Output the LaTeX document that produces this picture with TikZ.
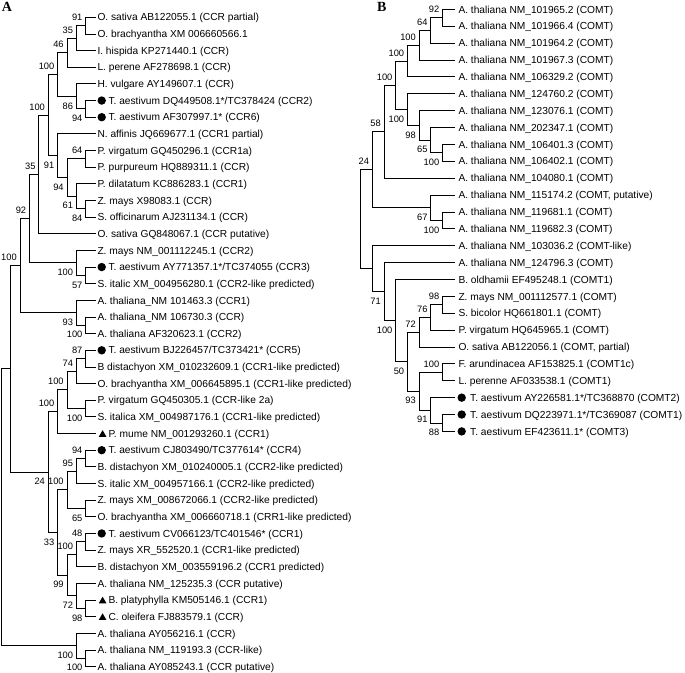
\documentclass[tikz,border=0pt]{standalone}
\usepackage{fontspec}
\setmainfont{Liberation Sans}
\newfontfamily\panelfont{Liberation Serif}
\usetikzlibrary{calc,shapes.geometric}

\tikzset{
  br/.style={line width=0.85pt, line cap=rect},
  taxon/.style={anchor=west, inner sep=0pt, text height=7.3pt, text depth=0pt, font=\fontsize{10.2}{12}\selectfont},
  bs/.style={anchor=east, inner sep=0pt, text height=6.7pt, text depth=0pt, font=\fontsize{9.3}{11}\selectfont},
  bsu/.style={bs, xshift=-3.2pt, yshift=8.3pt},
  bsd/.style={bs, xshift=-3.2pt, yshift=-9.3pt},
  dotmark/.style={circle, fill=black, inner sep=0pt, minimum size=8.4pt},
  trimark/.style={regular polygon, regular polygon sides=3, fill=black, inner sep=0pt, minimum size=8.8pt},
  panel/.style={anchor=base west, inner sep=0pt, font=\panelfont\bfseries\fontsize{14}{16}\selectfont}
}

% clade: name, height, child1, child2, label, u/d/n
\newcommand\cladeA[6]{%
  \path let \p1=(#3), \p2=(#4) in coordinate (#1) at ({95.2-9.38*#2}, {(\y1+\y2)/2});
  \draw[br] (#1) |- (#3);
  \draw[br] (#1) |- (#4);
  \if#6n\else\node[bs#6] (bs#1) at (#1) {#5};\fi}
\newcommand\cladeB[6]{%
  \path let \p1=(#3), \p2=(#4) in coordinate (#1) at ({454.3-11.7*#2}, {(\y1+\y2)/2});
  \draw[br] (#1) |- (#3);
  \draw[br] (#1) |- (#4);
  \if#6n\else\node[bs#6] (bs#1) at (#1) {#5};\fi}

\newcommand\tA[2]{\node[taxon] (ta#1) at ([xshift=2.1pt]la#1) {#2};}
\newcommand\tAd[2]{\node[dotmark] (ma#1) at ([xshift=6.5pt]la#1) {};\node[taxon] (ta#1) at ([xshift=13.1pt]la#1) {#2};}
\newcommand\tAt[2]{\node[trimark] (ma#1) at ([xshift=7.4pt,yshift=-1pt]la#1) {};\node[taxon] (ta#1) at ([xshift=13.1pt]la#1) {#2};}
\newcommand\tB[2]{\node[taxon] (tb#1) at ([xshift=4pt]lb#1) {#2};}
\newcommand\tBd[2]{\node[dotmark] (mb#1) at ([xshift=7.4pt]lb#1) {};\node[taxon] (tb#1) at ([xshift=15.7pt]lb#1) {#2};}

\begin{document}
\begin{tikzpicture}[x=1pt, y=-1pt]
\useasboundingbox (0,0) rectangle (685,672);

\node[panel] (pA) at (1.7,11.7) {A};
\node[panel] (pB) at (377,11.7) {B};

% ---------------- Panel A ----------------
\foreach \i in {0,...,39} \coordinate (la\i) at (95.2, {17.3+16.65*\i});

\cladeA{a1}{1}{la0}{la1}{91}{u}
\cladeA{a2}{2}{a1}{la2}{35}{u}
\cladeA{a3}{3}{a2}{la3}{46}{u}
\cladeA{a4}{1}{la5}{la6}{94}{d}
\cladeA{a5}{2}{la4}{a4}{86}{d}
\cladeA{a6}{4}{a3}{a5}{100}{u}
\cladeA{a8}{1}{la8}{la9}{64}{u}
\cladeA{a9}{1}{la11}{la12}{84}{d}
\cladeA{a10}{2}{la10}{a9}{61}{d}
\cladeA{a11}{3}{a8}{a10}{94}{d}
\cladeA{a12}{4}{la7}{a11}{91}{d}
\cladeA{a7}{5}{a6}{a12}{100}{u}
\cladeA{a13}{6}{a7}{la13}{35}{u}
\cladeA{a15}{1}{la15}{la16}{57}{d}
\cladeA{a14}{2}{la14}{a15}{100}{d}
\cladeA{a16}{7}{a13}{a14}{92}{u}
\cladeA{a18}{1}{la18}{la19}{100}{d}
\cladeA{a17}{2}{la17}{a18}{93}{d}
\cladeA{a19}{8}{a16}{a17}{100}{u}
\cladeA{b1}{1}{la20}{la21}{87}{u}
\cladeA{b2}{2}{b1}{la22}{74}{u}
\cladeA{b3}{1}{la23}{la24}{100}{d}
\cladeA{b4}{3}{b2}{b3}{100}{u}
\cladeA{b5}{4}{b4}{la25}{100}{u}
\cladeA{c1}{1}{la26}{la27}{94}{u}
\cladeA{c2}{2}{c1}{la28}{95}{u}
\cladeA{c3}{1}{la29}{la30}{65}{d}
\cladeA{c4}{3}{c2}{c3}{100}{u}
\cladeA{c5}{1}{la31}{la32}{48}{u}
\cladeA{c6}{2}{c5}{la33}{100}{u}
\cladeA{c8}{1}{la35}{la36}{98}{d}
\cladeA{c7}{2}{la34}{c8}{72}{d}
\cladeA{c9}{3}{c6}{c7}{99}{d}
\cladeA{c10}{4}{c4}{c9}{33}{d}
\cladeA{c11}{5}{b5}{c10}{24}{d}
\cladeA{c12}{9}{a19}{c11}{}{n}
\cladeA{d1}{1}{la38}{la39}{100}{d}
\cladeA{d2}{2}{la37}{d1}{100}{d}
\cladeA{rootA}{10}{c12}{d2}{}{n}

\tA{0}{O. sativa AB122055.1 (CCR partial)}
\tA{1}{O. brachyantha XM 006660566.1}
\tA{2}{I. hispida KP271440.1 (CCR)}
\tA{3}{L. perene AF278698.1 (CCR)}
\tA{4}{H. vulgare AY149607.1 (CCR)}
\tAd{5}{T. aestivum DQ449508.1*/TC378424 (CCR2)}
\tAd{6}{T. aestivum AF307997.1* (CCR6)}
\tA{7}{N. affinis JQ669677.1 (CCR1 partial)}
\tA{8}{P. virgatum GQ450296.1 (CCR1a)}
\tA{9}{P. purpureum HQ889311.1 (CCR)}
\tA{10}{P. dilatatum KC886283.1 (CCR1)}
\tA{11}{Z. mays X98083.1 (CCR)}
\tA{12}{S. officinarum AJ231134.1 (CCR)}
\tA{13}{O. sativa GQ848067.1 (CCR putative)}
\tA{14}{Z. mays NM\_001112245.1 (CCR2)}
\tAd{15}{T. aestivum AY771357.1*/TC374055 (CCR3)}
\tA{16}{S. italic XM\_004956280.1 (CCR2-like predicted)}
\tA{17}{A. thaliana\_NM 101463.3 (CCR1)}
\tA{18}{A. thaliana\_NM 106730.3 (CCR)}
\tA{19}{A. thaliana AF320623.1 (CCR2)}
\tAd{20}{T. aestivum BJ226457/TC373421* (CCR5)}
\tA{21}{B distachyon XM\_010232609.1 (CCR1-like predicted)}
\tA{22}{O. brachyantha XM\_006645895.1 (CCR1-like predicted)}
\tA{23}{P. virgatum GQ450305.1 (CCR-like 2a)}
\tA{24}{S. italica XM\_004987176.1 (CCR1-like predicted)}
\tAt{25}{P. mume NM\_001293260.1 (CCR1)}
\tAd{26}{T. aestivum CJ803490/TC377614* (CCR4)}
\tA{27}{B. distachyon XM\_010240005.1 (CCR2-like predicted)}
\tA{28}{S. italic XM\_004957166.1 (CCR2-like predicted)}
\tA{29}{Z. mays XM\_008672066.1 (CCR2-like predicted)}
\tA{30}{O. brachyantha XM\_006660718.1 (CRR1-like predicted)}
\tAd{31}{T. aestivum CV066123/TC401546* (CCR1)}
\tA{32}{Z. mays XR\_552520.1 (CCR1-like predicted)}
\tA{33}{B. distachyon XM\_003559196.2 (CCR1 predicted)}
\tA{34}{A. thaliana NM\_125235.3 (CCR putative)}
\tAt{35}{B. platyphylla KM505146.1 (CCR1)}
\tAt{36}{C. oleifera FJ883579.1 (CCR)}
\tA{37}{A. thaliana AY056216.1 (CCR)}
\tA{38}{A. thaliana NM\_119193.3 (CCR-like)}
\tA{39}{A. thaliana AY085243.1 (CCR putative)}

% ---------------- Panel B ----------------
\foreach \j in {0,...,25} \coordinate (lb\j) at (454.3, {9.4+16.88*\j});

\cladeB{e1}{1}{lb0}{lb1}{92}{u}
\cladeB{e2}{2}{e1}{lb2}{64}{u}
\cladeB{e3}{3}{e2}{lb3}{100}{u}
\cladeB{e4}{4}{e3}{lb4}{100}{u}
\cladeB{e5}{1}{lb8}{lb9}{100}{d}
\cladeB{e6}{2}{lb7}{e5}{65}{d}
\cladeB{e7}{3}{lb6}{e6}{98}{d}
\cladeB{e8}{4}{lb5}{e7}{100}{d}
\cladeB{e9}{5}{e4}{e8}{100}{u}
\cladeB{e10}{6}{e9}{lb10}{58}{u}
\cladeB{e11}{1}{lb12}{lb13}{100}{d}
\cladeB{e12}{2}{lb11}{e11}{67}{d}
\cladeB{e13}{7}{e10}{e12}{24}{u}
\cladeB{f1}{1}{lb17}{lb18}{98}{u}
\cladeB{f2}{2}{f1}{lb19}{76}{u}
\cladeB{f3}{3}{f2}{lb20}{72}{u}
\cladeB{f4}{1}{lb21}{lb22}{100}{u}
\cladeB{f5}{1}{lb24}{lb25}{88}{d}
\cladeB{f6}{2}{lb23}{f5}{91}{d}
\cladeB{f7}{3}{f4}{f6}{93}{d}
\cladeB{f8}{4}{f3}{f7}{50}{d}
\cladeB{f9}{5}{lb16}{f8}{100}{d}
\cladeB{f10}{6}{lb15}{f9}{71}{d}
\cladeB{f11}{7}{lb14}{f10}{}{n}
\cladeB{rootB}{8}{e13}{f11}{}{n}

\tB{0}{A. thaliana NM\_101965.2 (COMT)}
\tB{1}{A. thaliana NM\_101966.4 (COMT)}
\tB{2}{A. thaliana NM\_101964.2 (COMT)}
\tB{3}{A. thaliana NM\_101967.3 (COMT)}
\tB{4}{A. thaliana NM\_106329.2 (COMT)}
\tB{5}{A. thaliana NM\_124760.2 (COMT)}
\tB{6}{A. thaliana NM\_123076.1 (COMT)}
\tB{7}{A. thaliana NM\_202347.1 (COMT)}
\tB{8}{A. thaliana NM\_106401.3 (COMT)}
\tB{9}{A. thaliana NM\_106402.1 (COMT)}
\tB{10}{A. thaliana NM\_104080.1 (COMT)}
\tB{11}{A. thaliana NM\_115174.2 (COMT, putative)}
\tB{12}{A. thaliana NM\_119681.1 (COMT)}
\tB{13}{A. thaliana NM\_119682.3 (COMT)}
\tB{14}{A. thaliana NM\_103036.2 (COMT-like)}
\tB{15}{A. thaliana NM\_124796.3 (COMT)}
\tB{16}{B. oldhamii EF495248.1 (COMT1)}
\tB{17}{Z. mays NM\_001112577.1 (COMT)}
\tB{18}{S. bicolor HQ661801.1 (COMT)}
\tB{19}{P. virgatum HQ645965.1 (COMT)}
\tB{20}{O. sativa AB122056.1 (COMT, partial)}
\tB{21}{F. arundinacea AF153825.1 (COMT1c)}
\tB{22}{L. perenne AF033538.1 (COMT1)}
\tBd{23}{T. aestivum AY226581.1*/TC368870 (COMT2)}
\tBd{24}{T. aestivum DQ223971.1*/TC369087 (COMT1)}
\tBd{25}{T. aestivum EF423611.1* (COMT3)}
\end{tikzpicture}
\end{document}
